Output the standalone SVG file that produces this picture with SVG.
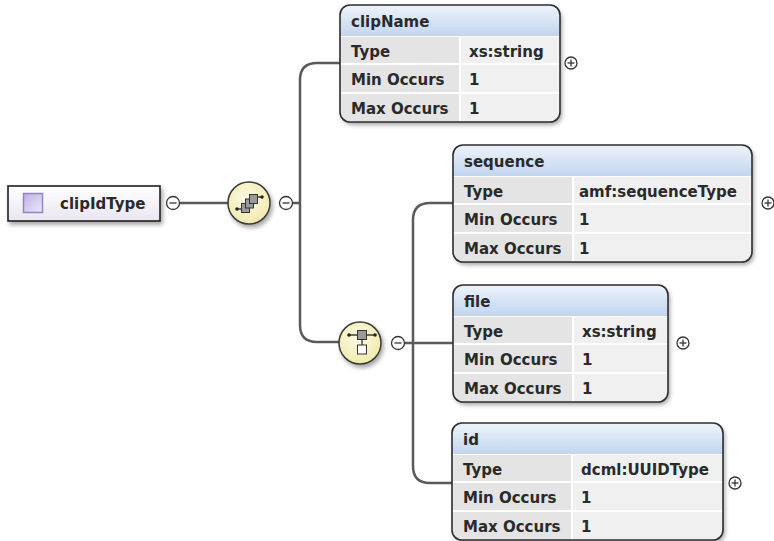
<svg xmlns="http://www.w3.org/2000/svg" width="774" height="541" viewBox="0 0 774 541">
<style>
.t{font-family:"DejaVu Sans","Liberation Sans",sans-serif;font-size:15px;font-weight:bold;fill:#2a2a2a}
.c{fill:none;stroke:#5a5a5a;stroke-width:2.5}
.brd{fill:none;stroke:#2e2e2e;stroke-width:1.6}
.lab{fill:#e4e4e4}
.val{fill:#f0f0f0}
.hd{fill:url(#hg)}
.pm{fill:#fff;stroke:#333;stroke-width:1.3}
.pl{stroke:#333;stroke-width:1.3}
.comp{fill:url(#cg);stroke:#3a3a3a;stroke-width:1.5}
.sq{fill:#9a9a9a;stroke:#333;stroke-width:1}
</style>
<defs>
<linearGradient id="hg" x1="0" y1="0" x2="0" y2="1"><stop offset="0" stop-color="#eef3fb"/><stop offset="1" stop-color="#c2d5ef"/></linearGradient>
<linearGradient id="tg" x1="0" y1="0" x2="0" y2="1"><stop offset="0" stop-color="#ffffff"/><stop offset="1" stop-color="#e9e6f0"/></linearGradient>
<linearGradient id="ig" x1="0" y1="0" x2="1" y2="1"><stop offset="0" stop-color="#bfaee6"/><stop offset="1" stop-color="#efeaf8"/></linearGradient>
<radialGradient id="cg" cx="0.45" cy="0.4" r="0.6"><stop offset="0" stop-color="#fdfbe6"/><stop offset="1" stop-color="#f1eaad"/></radialGradient>
<filter id="sh" x="-10%" y="-10%" width="125%" height="130%"><feDropShadow dx="2" dy="3" stdDeviation="2" flood-color="#000" flood-opacity="0.35"/></filter>
<clipPath id="k220"><rect x="0" y="0" width="220" height="117" rx="10"/></clipPath>
<clipPath id="k299"><rect x="0" y="0" width="299" height="117" rx="10"/></clipPath>
<clipPath id="k215"><rect x="0" y="0" width="215" height="117" rx="10"/></clipPath>
<clipPath id="k271"><rect x="0" y="0" width="271" height="117" rx="10"/></clipPath>
</defs>

<g id="connectors">
<path class="c" d="M180 203 H228"/>
<path class="c" d="M293 203 H300"/>
<path class="c" d="M340 63 H317 Q300 63 300 80 V325 Q300 342 317 342 H339"/>
<path class="c" d="M405 343 H453"/>
<path class="c" d="M453 203 H430 Q413 203 413 220 V466 Q413 483 430 483 H452"/>
</g>

<g id="clipIdType">
<rect x="8" y="186" width="152" height="35" fill="url(#tg)" stroke="#1e1e1e" stroke-width="1.6" filter="url(#sh)"/>
<rect x="23.5" y="193.5" width="19" height="19" fill="url(#ig)" stroke="#9882c6" stroke-width="1.5"/>
<text class="t" x="60" y="208.5">clipIdType</text>
<circle class="pm" cx="173" cy="203" r="6.5"/>
<line class="pl" x1="169.5" y1="203" x2="176.5" y2="203"/>
</g>

<g id="sequence-compositor">
<circle class="comp" cx="249" cy="203" r="21" filter="url(#sh)"/>
<line x1="237" y1="209" x2="242" y2="209" stroke="#222" stroke-width="1.3"/>
<circle cx="237" cy="209" r="1.8" fill="#222"/>
<line x1="256" y1="197" x2="262" y2="197" stroke="#222" stroke-width="1.3"/>
<circle cx="262" cy="197" r="1.8" fill="#222"/>
<rect class="sq" x="241.5" y="203.5" width="8" height="9"/>
<rect class="sq" x="245.5" y="199" width="8" height="9"/>
<rect class="sq" x="249.5" y="194.5" width="8" height="9"/>
<circle class="pm" cx="286" cy="203" r="6.5"/>
<line class="pl" x1="282.5" y1="203" x2="289.5" y2="203"/>
</g>

<g id="choice-compositor">
<circle class="comp" cx="360" cy="343" r="21" filter="url(#sh)"/>
<line x1="349" y1="335" x2="375" y2="335" stroke="#222" stroke-width="1.3"/>
<circle cx="349" cy="335" r="1.8" fill="#222"/>
<circle cx="375" cy="335" r="1.8" fill="#222"/>
<line x1="362" y1="339" x2="362" y2="345" stroke="#222" stroke-width="1.2"/>
<rect class="sq" x="357.5" y="330.5" width="9" height="9"/>
<rect x="357.5" y="345" width="9" height="9" fill="#fff" stroke="#333" stroke-width="1"/>
<circle class="pm" cx="398" cy="343" r="6.5"/>
<line class="pl" x1="394.5" y1="343" x2="401.5" y2="343"/>
</g>

<g id="clipName" transform="translate(340,5)">
<rect x="0" y="0" width="220" height="117" rx="10" fill="#fff" filter="url(#sh)"/>
<g clip-path="url(#k220)">
<rect class="hd" x="0" y="0" width="220" height="31"/>
<rect class="lab" x="0" y="32" width="119" height="26"/><rect class="val" x="121" y="32" width="99" height="26"/>
<rect class="lab" x="0" y="60" width="119" height="27"/><rect class="val" x="121" y="60" width="99" height="27"/>
<rect class="lab" x="0" y="89" width="119" height="30"/><rect class="val" x="121" y="89" width="99" height="30"/>
</g>
<rect class="brd" x="0" y="0" width="220" height="117" rx="10"/>
<text class="t" x="11" y="22">clipName</text>
<text class="t" x="11" y="52">Type</text><text class="t" x="129" y="52">xs:string</text>
<text class="t" x="11" y="80">Min Occurs</text><text class="t" x="129" y="80">1</text>
<text class="t" x="11" y="109">Max Occurs</text><text class="t" x="129" y="109">1</text>
<circle class="pm" cx="231" cy="58" r="6"/>
<line class="pl" x1="227.5" y1="58" x2="234.5" y2="58"/><line class="pl" x1="231" y1="54.5" x2="231" y2="61.5"/>
</g>

<g id="sequence" transform="translate(453,145)">
<rect x="0" y="0" width="299" height="117" rx="10" fill="#fff" filter="url(#sh)"/>
<g clip-path="url(#k299)">
<rect class="hd" x="0" y="0" width="299" height="31"/>
<rect class="lab" x="0" y="32" width="119" height="26"/><rect class="val" x="121" y="32" width="178" height="26"/>
<rect class="lab" x="0" y="60" width="119" height="27"/><rect class="val" x="121" y="60" width="178" height="27"/>
<rect class="lab" x="0" y="89" width="119" height="30"/><rect class="val" x="121" y="89" width="178" height="30"/>
</g>
<rect class="brd" x="0" y="0" width="299" height="117" rx="10"/>
<text class="t" x="11" y="22">sequence</text>
<text class="t" x="11" y="52">Type</text><text class="t" x="126" y="52">amf:sequenceType</text>
<text class="t" x="11" y="80">Min Occurs</text><text class="t" x="126" y="80">1</text>
<text class="t" x="11" y="109">Max Occurs</text><text class="t" x="126" y="109">1</text>
<circle class="pm" cx="315" cy="58" r="6"/>
<line class="pl" x1="311.5" y1="58" x2="318.5" y2="58"/><line class="pl" x1="315" y1="54.5" x2="315" y2="61.5"/>
</g>

<g id="file" transform="translate(453,285)">
<rect x="0" y="0" width="215" height="117" rx="10" fill="#fff" filter="url(#sh)"/>
<g clip-path="url(#k215)">
<rect class="hd" x="0" y="0" width="215" height="31"/>
<rect class="lab" x="0" y="32" width="119" height="26"/><rect class="val" x="121" y="32" width="94" height="26"/>
<rect class="lab" x="0" y="60" width="119" height="27"/><rect class="val" x="121" y="60" width="94" height="27"/>
<rect class="lab" x="0" y="89" width="119" height="30"/><rect class="val" x="121" y="89" width="94" height="30"/>
</g>
<rect class="brd" x="0" y="0" width="215" height="117" rx="10"/>
<text class="t" x="11" y="22">file</text>
<text class="t" x="11" y="52">Type</text><text class="t" x="129" y="52">xs:string</text>
<text class="t" x="11" y="80">Min Occurs</text><text class="t" x="129" y="80">1</text>
<text class="t" x="11" y="109">Max Occurs</text><text class="t" x="129" y="109">1</text>
<circle class="pm" cx="230" cy="58" r="6"/>
<line class="pl" x1="226.5" y1="58" x2="233.5" y2="58"/><line class="pl" x1="230" y1="54.5" x2="230" y2="61.5"/>
</g>

<g id="id" transform="translate(452,423)">
<rect x="0" y="0" width="271" height="117" rx="10" fill="#fff" filter="url(#sh)"/>
<g clip-path="url(#k271)">
<rect class="hd" x="0" y="0" width="271" height="31"/>
<rect class="lab" x="0" y="32" width="119" height="26"/><rect class="val" x="121" y="32" width="150" height="26"/>
<rect class="lab" x="0" y="60" width="119" height="27"/><rect class="val" x="121" y="60" width="150" height="27"/>
<rect class="lab" x="0" y="89" width="119" height="30"/><rect class="val" x="121" y="89" width="150" height="30"/>
</g>
<rect class="brd" x="0" y="0" width="271" height="117" rx="10"/>
<text class="t" x="11" y="22">id</text>
<text class="t" x="11" y="52">Type</text><text class="t" x="129" y="52">dcml:UUIDType</text>
<text class="t" x="11" y="80">Min Occurs</text><text class="t" x="129" y="80">1</text>
<text class="t" x="11" y="109">Max Occurs</text><text class="t" x="129" y="109">1</text>
<circle class="pm" cx="283" cy="60" r="6"/>
<line class="pl" x1="279.5" y1="60" x2="286.5" y2="60"/><line class="pl" x1="283" y1="56.5" x2="283" y2="63.5"/>
</g>
</svg>
